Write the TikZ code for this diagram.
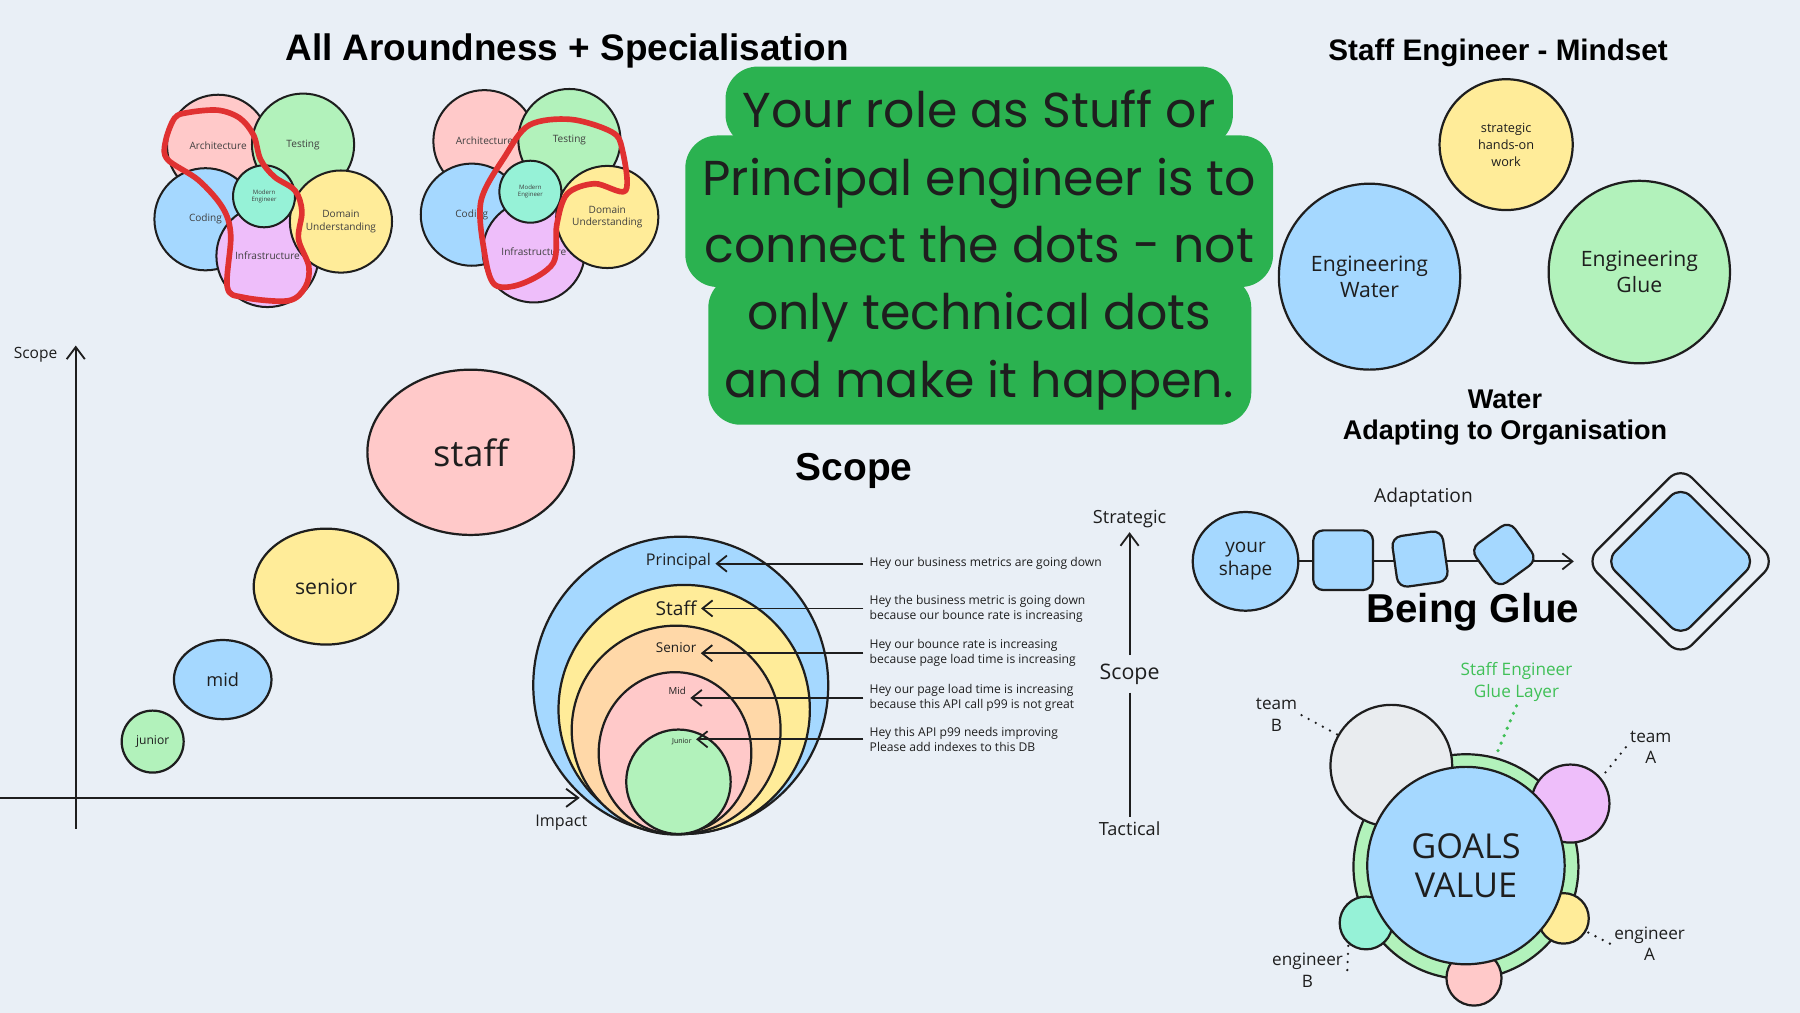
\documentclass[tikz,border=0pt]{standalone}
\usepackage{fontspec}
\setmainfont{Liberation Sans}
\newfontfamily\handfont{Open Sans}
\newfontfamily\popfont{Poppins}
\usetikzlibrary{shapes.geometric,arrows.meta,positioning,calc}

\definecolor{bg}{RGB}{233,239,246}
\definecolor{ink}{RGB}{30,30,30}
\definecolor{cpink}{RGB}{255,201,201}
\definecolor{cgreen}{RGB}{178,242,187}
\definecolor{cblue}{RGB}{165,216,255}
\definecolor{cyellow}{RGB}{255,236,153}
\definecolor{cpurple}{RGB}{238,190,250}
\definecolor{cteal}{RGB}{150,242,215}
\definecolor{corange}{RGB}{255,216,168}
\definecolor{cgray}{RGB}{233,236,239}
\definecolor{hired}{RGB}{224,49,49}
\definecolor{boxgreen}{RGB}{43,178,80}
\definecolor{gluegreen}{RGB}{64,192,87}

\newcommand{\handsz}[2]{\handfont\fontsize{#1}{#2}\selectfont}

\tikzset{
  bub/.style={ellipse, draw=ink, line width=1.1pt, inner sep=0pt, align=center, text=ink},
  dot/.style={circle, draw=ink, line width=1.1pt, inner sep=0pt, align=center, text=ink},
  skill/.style={circle, draw=ink, line width=1pt, minimum size=1.78cm, inner sep=0pt, align=center, text=ink!85, font=\handsz{5}{6}},
  lbl/.style={align=center, text=ink, inner sep=2pt},
  hint/.style={font=\handsz{6}{7.4}, align=left, anchor=west, text=ink, inner sep=3pt},
  pointer/.style={-{Straight Barb[length=5pt,width=8pt]}, line width=0.9pt, draw=ink},
  axis/.style={line width=0.9pt, draw=ink},
  marker/.style={draw=hired, line width=2.8pt, line join=round},
  sq/.style={rectangle, draw=ink, fill=cblue, line width=1.1pt, rounded corners=5pt, inner sep=0pt},
  dots/.style={draw=ink, line width=1.3pt, line cap=round, dash pattern=on 0pt off 4pt},
}

\begin{document}
\begin{tikzpicture}[x=0.02cm, y=-0.02cm]
    \fill[bg] (0,0) rectangle (1568,882);
    \useasboundingbox (0,0) rectangle (1568,882);

    % Titles
    \node[lbl, text=black, font=\bfseries\fontsize{18.3}{22}\selectfont] (ttlaround) at (494,44) {All Aroundness + Specialisation};
    \node[lbl, text=black, font=\bfseries\fontsize{14.7}{17}\selectfont] (ttlmind) at (1305,46) {Staff Engineer - Mindset};
    \node[lbl, text=black, font=\bfseries\fontsize{13.4}{16}\selectfont] (ttladapt) at (1311,377) {Adapting to Organisation};
    \node[lbl, text=black, font=\bfseries\fontsize{13.4}{16}\selectfont, above=1pt of ttladapt] (ttlwater) {Water};
    \node[lbl, text=black, font=\bfseries\fontsize{19.3}{22}\selectfont] (ttlscope) at (744,410) {Scope};
    \node[lbl, text=black, font=\bfseries\fontsize{20}{23}\selectfont] (ttlglue) at (1283,533) {Being Glue};

    % Skill clusters
    \foreach \cx/\cy/\k in {230/171/l, 462/167/r} {
      \begin{scope}[shift={(\cx,\cy)}]
        \node[skill, fill=cpink] (arch\k) at (-40,-44) {Architecture};
        \node[skill, fill=cgreen] (test\k) at (34,-45) {Testing};
        \node[skill, fill=cblue] (code\k) at (-51,20) {Coding};
        \node[skill, fill=cpurple] (infra\k) at (3,52) {Infrastructure};
        \node[skill, fill=cyellow] (domain\k) at (67,22) {Domain\\Understanding};
        \node[skill, fill=cteal, minimum size=1.08cm, font=\handsz{3}{3.6}] (modern\k) at (0,0) {Modern\\Engineer};
      \end{scope}
    }

    % Red highlights
    \draw[marker] plot[smooth cycle, tension=0.55] coordinates {(164,98) (190,96) (209,103) (221,118) (227,139) (239,154) (257,166) (263,184) (260,208) (269,232) (266,250) (251,262) (212,259) (198,250) (201,205) (194,181) (173,157) (146,139) (144,124) (152,103)};
    \draw[marker] plot[smooth cycle, tension=0.55] coordinates {(461,109) (497,104) (533,115) (542,130) (545,166) (518,160) (494,169) (485,196) (482,229) (455,247) (431,248) (422,220) (419,175) (440,136)};

    % Green statement
    \fill[boxgreen, rounded corners=16pt] (632,58) rectangle (1074,128);
    \fill[boxgreen, rounded corners=16pt] (597,118) rectangle (1109,250);
    \fill[boxgreen, rounded corners=16pt] (617,240) rectangle (1090,370);
    \node[lbl, text=ink, font=\popfont\fontsize{24.3}{33.4}\selectfont] (statement) at (853,218)
      {Your role as Stuff or\\Principal engineer is to\\connect the dots - not\\only technical dots\\and make it happen.};

    % Career axes
    \coordinate (yaxbot) at (66,722);
    \coordinate (yaxtop) at (66,301);
    \coordinate (xaxleft) at (0,695);
    \coordinate (xaxright) at (505,695);
    \draw[axis, -{Straight Barb[length=6pt,width=9pt]}] (yaxbot) -- (yaxtop);
    \draw[axis, -{Straight Barb[length=6pt,width=9pt]}] (xaxleft) -- (xaxright);
    \node[lbl, font=\handsz{7.7}{9}] (lscope) at (31,309) {Scope};
    \node[lbl, font=\handsz{8}{9}] (limpact) at (489,717) {Impact};

    % Career bubbles
    \node[bub, fill=cgreen, minimum size=1.08cm, font=\handsz{6}{7}] (bjunior) at (133,646) {junior};
    \node[bub, fill=cblue, minimum width=1.7cm, minimum height=1.38cm, font=\handsz{9}{10}] (bmid) at (194,592) {mid};
    \node[bub, fill=cyellow, minimum width=2.52cm, minimum height=2.02cm, font=\handsz{10.5}{12}] (bsenior) at (284,511) {senior};
    \node[bub, fill=cpink, minimum width=3.6cm, minimum height=2.88cm, font=\handsz{18}{20}] (bstaff) at (410,394) {staff};

    % Nested scope
    \node[bub, fill=cblue, minimum width=5.14cm, minimum height=5.18cm] (rprin) at (593,597) {};
    \node[bub, fill=cyellow, minimum width=4.38cm, minimum height=4.34cm] (rstaff) at (596,618) {};
    \node[bub, fill=corange, minimum size=3.64cm] (rsenior) at (589,636) {};
    \node[bub, fill=cpink, minimum width=2.66cm, minimum height=2.82cm] (rmid) at (588,656) {};
    \node[bub, fill=cgreen, minimum size=1.82cm] (rjunior) at (591,681) {};
    \node[lbl, font=\handsz{8}{9}] (lprin) at (591,489) {Principal};
    \node[lbl, font=\handsz{9.5}{10}] (lstaff) at (589,530) {Staff};
    \node[lbl, font=\handsz{6.7}{8}] (lsenior) at (589,564) {Senior};
    \node[lbl, font=\handsz{4.8}{6}] (lmid) at (590,602) {Mid};
    \node[lbl, font=\handsz{3.5}{4}] (ljunior) at (594,646) {Junior};

    \node[hint] (hprin) at (752,491) {Hey our business metrics are going down};
    \node[hint] (hstaff) at (752,530) {Hey the business metric is going down\\because our bounce rate is increasing};
    \node[hint] (hsenior) at (752,569) {Hey our bounce rate is increasing\\because page load time is increasing};
    \node[hint] (hmid) at (752,608) {Hey our page load time is increasing\\because this API call p99 is not great};
    \node[hint] (hjunior) at (752,644) {Hey this API p99 needs improving\\Please add indexes to this DB};
    \draw[pointer] (hprin.west) -- (hprin.west -| lprin.east);
    \draw[pointer] (hstaff.west) -- (hstaff.west -| lstaff.east);
    \draw[pointer] (hsenior.west) -- (hsenior.west -| lsenior.east);
    \draw[pointer] (hmid.west) -- (hmid.west -| lmid.east);
    \draw[pointer] (hjunior.west) -- (hjunior.west -| ljunior.east);

    % Strategic / tactical axis
    \node[lbl, font=\handsz{9}{10}] (strat) at (984,452) {Strategic};
    \node[lbl, font=\handsz{10.6}{12}] (scopeax) at (984,587) {Scope};
    \node[lbl, font=\handsz{9}{10}] (tact) at (984,722) {Tactical};
    \draw[axis, -{Straight Barb[length=6pt,width=9pt]}] ([yshift=2pt]scopeax.north) -- (scopeax.north |- strat.south);
    \draw[axis] ([yshift=-2pt]scopeax.south) -- (scopeax.south |- tact.north);

    % Mindset
    \node[bub, fill=cyellow, minimum width=2.32cm, minimum height=2.28cm, font=\handsz{6.3}{8.5}] (handson) at (1312,126) {strategic\\hands-on\\work};
    \node[bub, fill=cblue, minimum width=3.16cm, minimum height=3.24cm, font=\handsz{10.5}{13}] (water) at (1193,241) {Engineering\\Water};
    \node[bub, fill=cgreen, minimum width=3.16cm, minimum height=3.18cm, font=\handsz{10.5}{13}] (glue) at (1428,237) {Engineering\\Glue};

    % Adaptation
    \node[lbl, font=\handsz{9.5}{11}] (adapt) at (1240,433) {Adaptation};
    \node[bub, fill=cblue, minimum width=1.84cm, minimum height=1.72cm, font=\handsz{9.4}{11.4}] (yshape) at (1085,489) {your\\shape};
    \coordinate (adaptend) at (1371,488);
    \draw[pointer] (yshape.east) -- (yshape.east -| adaptend);
    \node[sq, minimum size=1.04cm] (sqa) at (1170,488) {};
    \node[sq, minimum size=0.89cm, rotate=8] (sqb) at (1237,487) {};
    \node[sq, minimum size=0.84cm, rotate=36] (sqc) at (1310,483) {};
    \node[diamond, draw=ink, line width=1.1pt, rounded corners=8pt, minimum size=3.32cm] (target) at (1464,489) {};
    \node[diamond, draw=ink, fill=cblue, line width=1.1pt, rounded corners=7pt, minimum size=2.64cm] (targetin) at (1464,489) {};

    % Glue layer
    \node[dot, fill=cgreen, minimum size=3.92cm] (ring) at (1277,755) {};
    \node[dot, fill=cgray, minimum size=2.12cm] (teamb) at (1212,667) {};
    \node[dot, fill=cpurple, minimum size=1.36cm] (teama) at (1368,700) {};
    \node[dot, fill=cyellow, minimum size=0.88cm] (enga) at (1362,800) {};
    \node[dot, fill=cpink, minimum size=0.96cm] (engp) at (1284,852) {};
    \node[dot, fill=cteal, minimum size=0.92cm] (engb) at (1190,804) {};
    \node[dot, fill=cblue, minimum size=3.44cm, font=\handsz{17}{19.3}] (goals) at (1277,754) {GOALS\\VALUE};

    \node[lbl, font=\handsz{8.5}{10.8}, text=gluegreen] (gluelbl) at (1321,594) {Staff Engineer\\Glue Layer};
    \draw[dots, draw=gluegreen, line width=1.8pt] (gluelbl.south) -- (ring.75);
    \node[lbl, font=\handsz{8.5}{10.8}] (lteamb) at (1112,623) {team\\B};
    \node[lbl, font=\handsz{8.5}{10.8}] (lteama) at (1438,651) {team\\A};
    \node[lbl, font=\handsz{8.5}{10.8}] (lenga) at (1437,822) {engineer\\A};
    \node[lbl, font=\handsz{8.5}{10.8}] (lengb) at (1139,845) {engineer\\B};
    \draw[dots] (lteamb.east) -- (teamb.150);
    \draw[dots] (lteama.west) -- (teama.40);
    \draw[dots] (lenga.west) -- (enga.-30);
    \draw[dots] (lengb.east) -- (engb.230);
\end{tikzpicture}
\end{document}
